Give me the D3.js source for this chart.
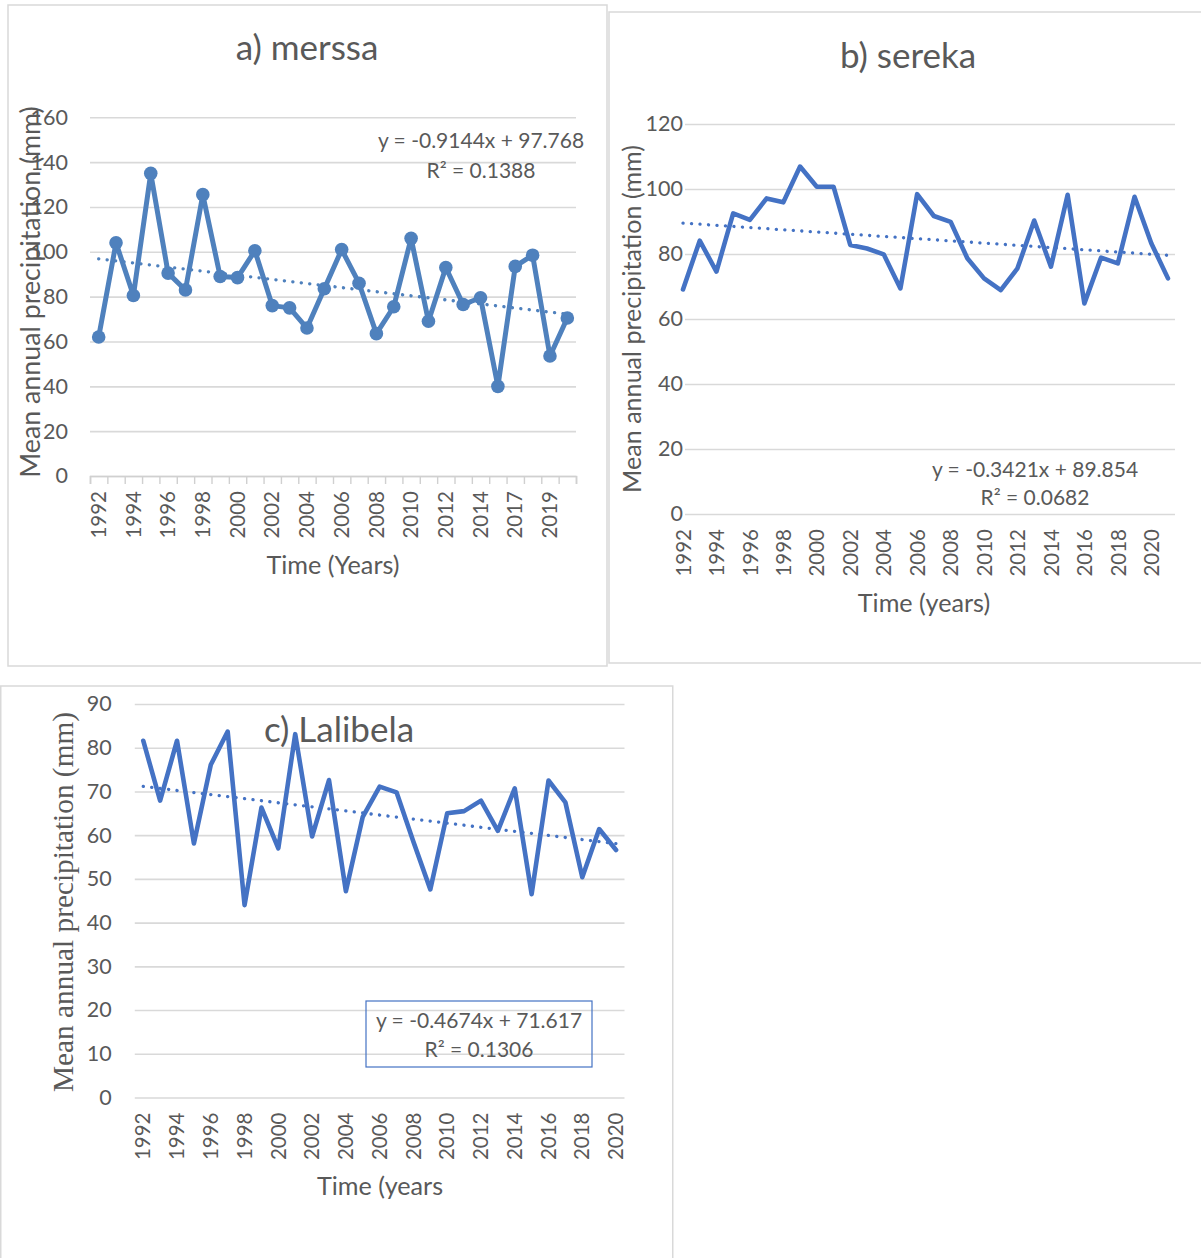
<!DOCTYPE html>
<html><head><meta charset="utf-8">
<script src="https://cdn.jsdelivr.net/npm/d3@7"></script>
<style>
html,body{margin:0;padding:0;background:#fff;}
svg{display:block;}
</style></head>
<body><svg id="chart" width="1201" height="1258"></svg>
<script>
// ---------- DATA ----------
const yearsA = ["1992","1993","1994","1995","1996","1997","1998","1999","2000","2001","2002","2003","2004","2005","2006","2007","2008","2009","2010","2011","2012","2013","2014","2015","2017","2018","2019","2020"];
const valuesA = [62, 104, 80.5, 135, 90.5, 83, 125.5, 89, 88.5, 100.5, 76, 75, 66, 83.5, 101, 86, 63.5, 75.5, 106, 69, 93, 76.5, 79.5, 40, 93.5, 98.5, 53.5, 70.5];
const ticksA = [0, 20, 40, 60, 80, 100, 120, 140, 160];
const trendA = [-0.9144, 97.768];
const trendLabelA = ["y = -0.9144x + 97.768", "R² = 0.1388"];

const yearsB = ["1992","1993","1994","1995","1996","1997","1998","1999","2000","2001","2002","2003","2004","2005","2006","2007","2008","2009","2010","2011","2012","2013","2014","2015","2016","2017","2018","2019","2020","2021"];
const valuesB = [69.1, 84.1, 74.6, 92.5, 90.5, 97.1, 95.9, 106.9, 100.7, 100.7, 82.8, 81.7, 79.9, 69.4, 98.4, 91.7, 89.9, 78.7, 72.5, 68.9, 75.6, 90.3, 76.1, 98.2, 64.8, 78.9, 77.1, 97.6, 83.3, 72.5];
const ticksB = [0, 20, 40, 60, 80, 100, 120];
const trendB = [-0.3421, 89.854];
const trendLabelB = ["y = -0.3421x + 89.854", "R² = 0.0682"];

const yearsC = ["1992","1993","1994","1995","1996","1997","1998","1999","2000","2001","2002","2003","2004","2005","2006","2007","2008","2009","2010","2011","2012","2013","2014","2015","2016","2017","2018","2019","2020"];
const valuesC = [81.6, 67.9, 81.6, 58.1, 76.1, 83.7, 44.0, 66.3, 57.0, 83.1, 59.7, 72.6, 47.2, 64.2, 71.1, 69.8, 58.5, 47.6, 65.0, 65.5, 67.9, 61.0, 70.7, 46.5, 72.5, 67.5, 50.4, 61.4, 56.6];
const ticksC = [0, 10, 20, 30, 40, 50, 60, 70, 80, 90];
const trendC = [-0.4674, 71.617];
const trendLabelC = ["y = -0.4674x + 71.617", "R² = 0.1306"];

// ---------- DRAW ----------
const svg = d3.select("#chart");
const SANS = "Lato, 'Open Sans', sans-serif";
const SERIF = "'Liberation Serif', 'DejaVu Serif', serif";
const GRAY = "#595959", GRID = "#d9d9d9";

function panel(cfg) {
  const g = svg.append("g");
  g.append("rect")
    .attr("x", cfg.frame[0]).attr("y", cfg.frame[1])
    .attr("width", cfg.frame[2]).attr("height", cfg.frame[3])
    .attr("fill", "#fff").attr("stroke", "#d9d9d9").attr("stroke-width", 1.5);

  const data = cfg.years.map((yr, i) => ({year: yr, value: cfg.values[i]}));
  const y = d3.scaleLinear().domain([0, cfg.yTicks[cfg.yTicks.length - 1]]).range([cfg.y0, cfg.y1]);
  let x, cx;
  if (cfg.band) {
    x = d3.scaleBand().domain(cfg.years).range([cfg.x0, cfg.x1]).paddingInner(0).paddingOuter(0);
    cx = d => x(d) + x.bandwidth() / 2;
  } else {
    x = d3.scalePoint().domain(cfg.years).range([cfg.x0, cfg.x1]).padding(0);
    cx = d => x(d);
  }

  const ya = g.append("g").attr("transform", `translate(${cfg.gx0},0)`)
    .call(d3.axisLeft(y).tickValues(cfg.yTicks).tickSize(-(cfg.gx1 - cfg.gx0)).tickPadding(cfg.yPad));
  ya.select(".domain").remove();
  ya.selectAll(".tick line").attr("stroke", GRID).attr("stroke-width", 1.6);
  ya.selectAll(".tick text").attr("fill", GRAY).attr("font-family", SANS).attr("font-size", cfg.yFont);

  const xa = g.append("g").attr("transform", `translate(0,${cfg.y0})`)
    .call(d3.axisBottom(x).tickValues(cfg.years.filter((d, i) => i % 2 === 0)).tickSize(0));
  xa.select(".domain").remove();
  xa.selectAll(".tick text")
    .attr("fill", GRAY).attr("font-family", SANS).attr("font-size", cfg.xFont)
    .attr("transform", "rotate(-90)").attr("text-anchor", "end")
    .attr("x", -cfg.xLabOff).attr("y", 0).attr("dy", "0.35em");

  if (cfg.boundaryTicks) {
    const n = cfg.years.length;
    const bx = d3.scaleLinear().domain([0, n]).range([cfg.x0, cfg.x1]);
    const ba = g.append("g").attr("transform", `translate(0,${cfg.y0})`)
      .call(d3.axisBottom(bx).tickValues(d3.range(n + 1)).tickSize(8).tickFormat(""));
    ba.select(".domain").attr("stroke", "#d0d0d0").attr("stroke-width", 1.6);
    ba.selectAll(".tick line").attr("stroke", "#d0d0d0").attr("stroke-width", 1.4);
  }

  g.append("text").attr("x", cfg.title[1]).attr("y", cfg.title[2]).attr("text-anchor", "middle")
    .attr("font-family", SANS).attr("font-size", cfg.titleFont).attr("fill", GRAY).text(cfg.title[0]);

  g.append("text").attr("transform", `translate(${cfg.yTitle[1]},${cfg.yTitle[2]}) rotate(-90)`)
    .attr("text-anchor", "middle").attr("dy", "0.35em")
    .attr("font-family", cfg.yTitleFamily).attr("font-size", cfg.yTitleFont).attr("fill", GRAY).text(cfg.yTitle[0]);

  g.append("text").attr("x", cfg.xTitle[1]).attr("y", cfg.xTitle[2]).attr("text-anchor", "middle")
    .attr("font-family", SANS).attr("font-size", cfg.xTitleFont).attr("fill", GRAY).text(cfg.xTitle[0]);

  const n = cfg.years.length;
  const tdata = [
    {year: cfg.years[0], value: cfg.trend[0] * 1 + cfg.trend[1]},
    {year: cfg.years[n - 1], value: cfg.trend[0] * n + cfg.trend[1]}
  ];
  const line = d3.line().x(d => cx(d.year)).y(d => y(d.value));

  g.append("path").datum(data).attr("d", line)
    .attr("fill", "none").attr("stroke", cfg.color).attr("stroke-width", cfg.lineW)
    .attr("stroke-linejoin", "round").attr("stroke-linecap", "round");

  g.append("path").datum(tdata).attr("d", line)
    .attr("fill", "none").attr("stroke", cfg.color).attr("stroke-width", 3.3)
    .attr("stroke-dasharray", "0.1 8.4").attr("stroke-linecap", "round");

  if (cfg.markers) {
    g.selectAll("circle.m").data(data).join("circle").attr("class", "m")
      .attr("cx", d => cx(d.year)).attr("cy", d => y(d.value)).attr("r", 6.8)
      .attr("fill", cfg.color);
  }

  if (cfg.trendBox) {
    g.append("rect").attr("x", cfg.trendBox[0]).attr("y", cfg.trendBox[1])
      .attr("width", cfg.trendBox[2]).attr("height", cfg.trendBox[3])
      .attr("fill", "none").attr("stroke", "#4472C4").attr("stroke-width", 1.2);
  }
  cfg.trendLabel.forEach((t, i) => {
    g.append("text").attr("x", cfg.trendPos[0]).attr("y", cfg.trendPos[1] + i * cfg.trendPos[2])
      .attr("text-anchor", "middle").attr("font-family", SANS).attr("font-size", cfg.trendFont)
      .attr("fill", GRAY).text(t);
  });
}

panel({
  years: yearsA, values: valuesA, yTicks: ticksA, trend: trendA, trendLabel: trendLabelA,
  frame: [8, 5, 599, 661], band: true, x0: 90, x1: 576, gx0: 90, gx1: 576, y0: 476, y1: 117.3,
  yPad: 22, yFont: 21.5, xFont: 20.5, xLabOff: 15, boundaryTicks: true,
  title: ["a) merssa", 307, 60], titleFont: 35,
  yTitle: ["Mean annual precipitation (mm)", 31, 292], yTitleFamily: SANS, yTitleFont: 26.8,
  xTitle: ["Time (Years)", 333, 574], xTitleFont: 25.2,
  color: "#4F81BD", markers: true, lineW: 5,
  trendPos: [481, 148, 30], trendFont: 21
});

panel({
  years: yearsB, values: valuesB, yTicks: ticksB, trend: trendB, trendLabel: trendLabelB,
  frame: [609, 12, 600, 651], band: false, x0: 683, x1: 1168, gx0: 685, gx1: 1175, y0: 514, y1: 124,
  yPad: 2, yFont: 21.5, xFont: 20.5, xLabOff: 15, boundaryTicks: false,
  title: ["b) sereka", 908, 68], titleFont: 35,
  yTitle: ["Mean annual precipitation (mm)", 632, 319], yTitleFamily: SANS, yTitleFont: 25.1,
  xTitle: ["Time (years)", 924, 612], xTitleFont: 25.2,
  color: "#4472C4", markers: false, lineW: 4.6,
  trendPos: [1035, 477, 28], trendFont: 21
});

panel({
  years: yearsC, values: valuesC, yTicks: ticksC, trend: trendC, trendLabel: trendLabelC,
  frame: [0.75, 686, 672, 600], band: true, x0: 134.8, x1: 624.5, gx0: 134.8, gx1: 624.5, y0: 1097.5, y1: 704,
  yPad: 23, yFont: 21.5, xFont: 20.5, xLabOff: 15, boundaryTicks: false,
  title: ["c) Lalibela", 339, 742], titleFont: 35,
  yTitle: ["Mean annual precipitation (mm)", 63, 902], yTitleFamily: SERIF, yTitleFont: 29.3,
  xTitle: ["Time (years", 380, 1195], xTitleFont: 25.2,
  color: "#4472C4", markers: false, lineW: 4.6,
  trendBox: [366, 1001, 226, 66],
  trendPos: [479, 1028, 28.7], trendFont: 21
});
</script>
</body></html>
